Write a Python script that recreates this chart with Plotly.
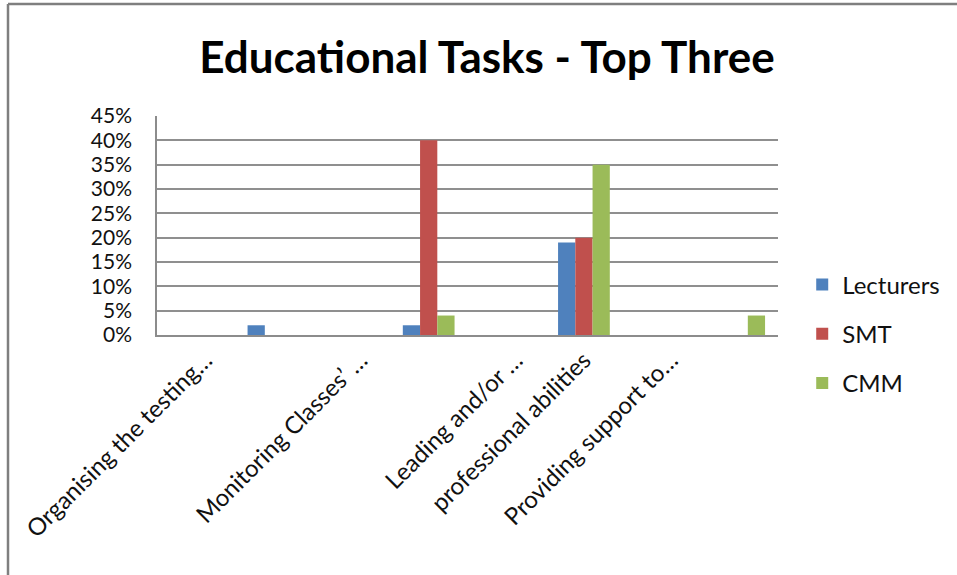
import plotly.graph_objects as go

# Rows of the source table: task names wrap over two rows, so every task
# takes a label row and a value row.
categories = [
    "Organising the testing…", "",
    "Monitoring Classes’ …", "",
    "Leading and/or …", "professional abilities",
    "Providing support to…", "",
]
lecturers = [0, 0.02, 0, 0.02, 0, 0.19, 0, 0]
smt = [0, 0, 0, 0.40, 0, 0.20, 0, 0]
cmm = [0, 0, 0, 0.04, 0, 0.35, 0, 0.04]
y_ticks = [0, 0.05, 0.10, 0.15, 0.20, 0.25, 0.30, 0.35, 0.40, 0.45]

series = [
    ("Lecturers", lecturers, "#4F81BD"),
    ("SMT", smt, "#C0504D"),
    ("CMM", cmm, "#9BBB59"),
]

positions = list(range(len(categories)))
# rotated labels hang from a point just right of each row's slot
label_nudge = {"professional abilities": -0.12}
label_pos = [p + 0.12 + label_nudge.get(c, 0) for p, c in zip(positions, categories) if c]
label_txt = [c for c in categories if c]

W, H = 957, 575
L, R, T, B = 157, 778, 116, 335

fig = go.Figure()
for name, vals, color in series:
    fig.add_trace(go.Bar(
        x=positions, y=vals, name=name, legendgroup=name,
        marker=dict(color=color, line=dict(width=0)),
    ))

fig.update_layout(
    width=W, height=H,
    margin=dict(l=L, r=W - R, t=T, b=H - B, autoexpand=False),
    paper_bgcolor="white", plot_bgcolor="white",
    barmode="group", bargap=1.5 / 4.5, bargroupgap=0,
    font=dict(family="Lato, Arial, sans-serif", color="#111111"),
    title=dict(
        text="<b>Educational Tasks - Top Three</b>",
        font=dict(size=44, family="Lato, Arial, sans-serif", color="black"),
        x=487 / W, xref="container", xanchor="center",
        y=1 - 58 / H, yref="container", yanchor="middle",
    ),
    legend=dict(
        x=1.039, xanchor="left", y=(B - 334) / (B - T), yanchor="middle",
        font=dict(size=24, color="#111111"),
        traceorder="grouped", tracegroupgap=15,
        bgcolor="rgba(0,0,0,0)",
    ),
    xaxis=dict(
        range=[-0.5, len(categories) - 0.5],
        tickvals=label_pos, ticktext=label_txt, tickangle=-45,
        tickfont=dict(size=24, color="#111111"),
        showgrid=False, zeroline=False, ticks="",
        showline=True, linecolor="#8c8c8c", linewidth=1.5,
    ),
    yaxis=dict(
        range=[0, 0.45], tickvals=y_ticks, tickformat=".0%",
        tickfont=dict(size=21, color="#111111"),
        showgrid=True, gridcolor="#8f8f8f", gridwidth=1.5,
        zeroline=False, ticks="", ticklabelstandoff=19,
        showline=True, linecolor="#8c8c8c", linewidth=1.5,
    ),
    shapes=[
        dict(type="line", xref="paper", yref="paper",
             x0=(8 - L) / (R - L), x1=(W + 5 - L) / (R - L),
             y0=(B - 4) / (B - T), y1=(B - 4) / (B - T),
             line=dict(color="#7f7f7f", width=2.5)),
        dict(type="line", xref="paper", yref="paper",
             x0=(8 - L) / (R - L), x1=(8 - L) / (R - L),
             y0=(B - 4) / (B - T), y1=(B - H - 5) / (B - T),
             line=dict(color="#7f7f7f", width=2.5)),
    ],
)

fig.write_html("out.html")
